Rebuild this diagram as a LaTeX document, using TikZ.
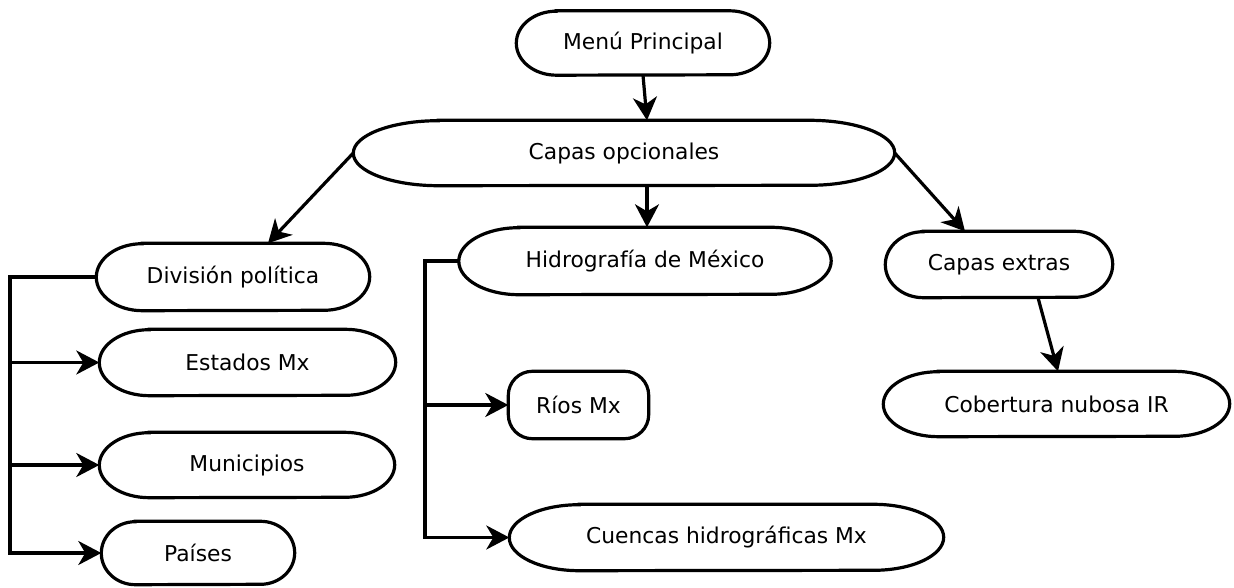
\documentclass[tikz,border=0pt]{standalone}
\usepackage{fontspec}
\setmainfont{DejaVu Sans}
\usetikzlibrary{arrows.meta}
\newcommand\stad[3]{%
  \draw[outline] ([xshift=#2]#1.north west) -- ([xshift=-#2]#1.north east)
    arc[start angle=90, end angle=-90, x radius=#2, y radius=#3]
    -- ([xshift=#2]#1.south west)
    arc[start angle=270, end angle=90, x radius=#2, y radius=#3] -- cycle;}
\begin{document}
\begin{tikzpicture}[x=1pt,y=1pt,
  box/.style={rectangle, inner sep=0pt, font=\fontsize{21.8}{25}\selectfont},
  outline/.style={line width=3.2pt},
  conn/.style={line width=3.2pt, -{Stealth[length=23pt,width=24pt,inset=7pt]}}]
\useasboundingbox (0,0) rectangle (1234,587);
\node[box, minimum width=253pt, minimum height=64pt] (menu) at (643,544) {Menú Principal};
\node[box, minimum width=541pt, minimum height=65pt] (cap) at (624,434) {Capas opcionales};
\node[box, minimum width=273pt, minimum height=67pt] (div) at (233,310) {División política};
\node[box, minimum width=296pt, minimum height=66pt] (est) at (247.5,224.5) {Estados Mx};
\node[box, minimum width=295pt, minimum height=65pt] (mun) at (247,122) {Municipios};
\node[box, minimum width=193pt, minimum height=63pt] (pai) at (198,34) {Países};
\node[box, minimum width=372pt, minimum height=67pt] (hid) at (645,326) {Hidrografía de México\hspace{26pt}};
\node[box, minimum width=140pt, minimum height=67pt] (rio) at (578.5,182) {Ríos Mx\hspace{24pt}};
\node[box, minimum width=434pt, minimum height=66pt] (cue) at (726.5,49.5) {Cuencas hidrográficas Mx};
\node[box, minimum width=227pt, minimum height=66pt] (ext) at (999,322.5) {Capas extras};
\node[box, minimum width=346pt, minimum height=65pt] (cob) at (1056.5,183) {Cobertura nubosa IR};
\stad{menu}{40pt}{32pt}
\stad{cap}{85pt}{32.5pt}
\stad{div}{46pt}{33.5pt}
\stad{est}{50pt}{33pt}
\stad{mun}{50pt}{32.5pt}
\stad{pai}{34pt}{31.5pt}
\stad{hid}{60pt}{33.5pt}
\stad{cue}{70pt}{33pt}
\stad{ext}{38pt}{33pt}
\stad{cob}{55pt}{32.5pt}
\draw[outline, rounded corners=24pt] (rio.north west) rectangle (rio.south east);
\draw[conn] (menu.south) -- ([xshift=23pt]cap.north);
\draw[conn] (cap.west) -- ([xshift=35pt]div.north);
\draw[conn] ([xshift=23pt]cap.south) -- ([xshift=2pt]hid.north);
\draw[conn] (cap.east) -- ([xshift=-34pt]ext.north);
\draw[conn] ([xshift=39pt]ext.south) -- ([xshift=1.5pt]cob.north);
\coordinate (lb) at (10,310);
\draw[conn] (div.west) -- (lb) |- (pai.west);
\draw[conn] (lb |- est.west) -- (est.west);
\draw[conn] (lb |- mun.west) -- (mun.west);
\coordinate (hb) at (425,326);
\draw[conn] (hid.west) -- (hb) |- (cue.west);
\draw[conn] (hb |- rio.west) -- (rio.west);
\end{tikzpicture}
\end{document}
